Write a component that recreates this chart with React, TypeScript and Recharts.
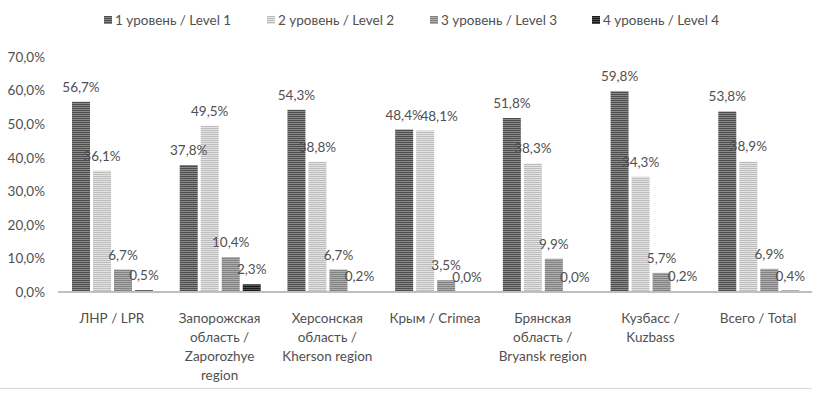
import React from 'react';
import { BarChart, Bar, XAxis, YAxis, LabelList } from 'recharts';

const categories = [
  'ЛНР / LPR',
  'Запорожская\nобласть /\nZaporozhye\nregion',
  'Херсонская\nобласть /\nKherson region',
  'Крым / Crimea',
  'Брянская\nобласть /\nBryansk region',
  'Кузбасс /\nKuzbass',
  'Всего / Total',
];
const level1 = [56.7, 37.8, 54.3, 48.4, 51.8, 59.8, 53.8];
const level2 = [36.1, 49.5, 38.8, 48.1, 38.3, 34.3, 38.9];
const level3 = [6.7, 10.4, 6.7, 3.5, 9.9, 5.7, 6.9];
const level4 = [0.5, 2.3, 0.2, 0.0, 0.0, 0.2, 0.4];
const seriesNames = ['1 уровень / Level 1', '2 уровень / Level 2', '3 уровень / Level 3', '4 уровень / Level 4'];
const yTicks = [0, 10, 20, 30, 40, 50, 60, 70];

const FONT = 'Lato, "Open Sans", sans-serif';
const TEXT = '#505050';

const patterns = [
  { id: 'p1', a: '#4d4d4d', b: '#8a8a8a' },
  { id: 'p2', a: '#bdbdbd', b: '#e3e3e3' },
  { id: 'p3', a: '#828282', b: '#adadad' },
  { id: 'p4', a: '#1a1a1a', b: '#505050' },
];

const data = categories.map((c, i) => ({
  name: c,
  l1: level1[i],
  l2: level2[i],
  l3: level3[i],
  l4: level4[i],
}));

const fmt = (v: number) => v.toFixed(1).replace('.', ',') + '%';

const XTick = (props: any) => {
  const { x, y, payload } = props;
  const lines = String(payload.value).split('\n');
  return (
    <text x={x} y={y} textAnchor="middle" fill={TEXT} fontSize={13.5} fontFamily={FONT}>
      {lines.map((l, i) => (
        <tspan key={i} x={x} dy={i === 0 ? 23 : 19}>{l}</tspan>
      ))}
    </text>
  );
};

const makeLabel = (seriesIdx: number) => (props: any) => {
  const { x, y, width, value, index } = props;
  let cx = Number(x) + Number(width) / 2;
  // nudge a label sideways when it would collide with its left neighbour
  if (seriesIdx === 1 && Math.abs(level1[index] - level2[index]) < 3) cx += 14;
  return (
    <text x={cx} y={Number(y) - 10} textAnchor="middle" fill={TEXT} fontSize={13.5} fontFamily={FONT}>
      {fmt(Number(value))}
    </text>
  );
};

const LegendBox = () => {
  const xs = [104, 267, 430, 592];
  return (
    <div style={{ position: 'absolute', left: 0, top: 0, width: 821, height: 40, fontFamily: FONT, fontSize: 13.5, color: TEXT }}>
      {seriesNames.map((n, i) => (
        <div key={n} style={{ position: 'absolute', left: xs[i], top: 12, display: 'flex', alignItems: 'center', whiteSpace: 'nowrap' }}>
          <svg width={8} height={8} style={{ marginRight: 3 }}>
            <rect width={8} height={8} fill={`url(#${patterns[i].id})`} />
          </svg>
          <span>{n}</span>
        </div>
      ))}
    </div>
  );
};

export default function App() {
  const keys = ['l1', 'l2', 'l3', 'l4'];
  return (
    <div style={{ position: 'absolute', left: 0, top: 0, width: 821, height: 398, background: '#fff', overflow: 'hidden' }}>
      <svg width={0} height={0} style={{ position: 'absolute' }}>
        <defs>
          {patterns.map((p) => (
            <pattern key={p.id} id={p.id} width={4} height={2} patternUnits="userSpaceOnUse">
              <rect width={4} height={2} fill={p.b} />
              <rect width={4} height={1} fill={p.a} />
            </pattern>
          ))}
        </defs>
      </svg>
      <BarChart
        width={821}
        height={398}
        data={data}
        margin={{ top: 57, right: 9, left: 0, bottom: 0 }}
        barCategoryGap="13%"
        barGap={3}
      >
        <XAxis
          dataKey="name"
          interval={0}
          height={106}
          tickLine={false}
          axisLine={{ stroke: '#bfbfbf', strokeWidth: 2 }}
          tick={<XTick />}
        />
        <YAxis
          width={58}
          domain={[0, 70]}
          ticks={yTicks}
          tickFormatter={(v: number) => fmt(v)}
          axisLine={false}
          tickLine={false}
          tickMargin={7}
          tick={{ fill: TEXT, fontSize: 13.5, fontFamily: FONT }}
        />
        {keys.map((k, i) => (
          <Bar
            key={k}
            dataKey={k}
            name={seriesNames[i]}
            fill={`url(#${patterns[i].id})`}
            minPointSize={0.01}
            isAnimationActive={false}
          >
            <LabelList dataKey={k} content={makeLabel(i)} />
          </Bar>
        ))}
      </BarChart>
      <LegendBox />
      <div style={{ position: 'absolute', left: 0, top: 388, width: 812, height: 1, background: '#d9d9d9' }} />
    </div>
  );
}
